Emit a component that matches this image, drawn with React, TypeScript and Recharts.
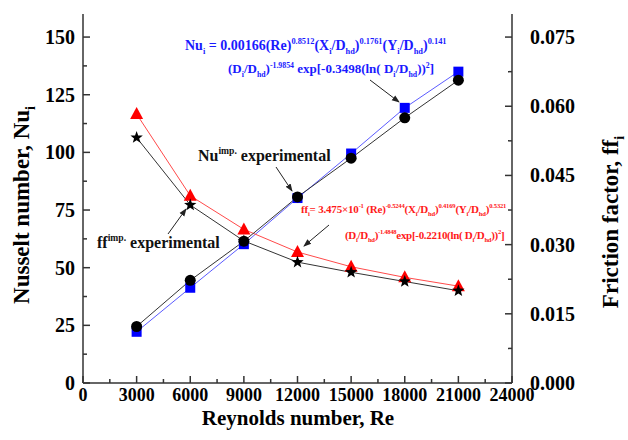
import { ComposedChart, Line, XAxis, YAxis, Customized } from "recharts";

// Reynolds numbers
const reynolds = [3000, 6000, 9000, 12000, 15000, 18000, 21000];
// Nusselt number
const nuExperimental = [24.5, 44.5, 61.5, 80.7, 97.5, 115, 131.3];
const nuCorrelation = [22.2, 41.3, 60.2, 80.2, 99.5, 119.3, 135];
// friction factor
const ffCorrelation = [0.0583, 0.0406, 0.0333, 0.0284, 0.0252, 0.0229, 0.0210];
const ffExperimental = [0.0532, 0.0386, 0.0308, 0.0262, 0.0240, 0.0220, 0.0200];

// ticks (majors get a label)
const xTicks = [0, 1500, 3000, 4500, 6000, 7500, 9000, 10500, 12000, 13500, 15000, 16500, 18000, 19500, 21000, 22500, 24000];
const xLabels = [0, 3000, 6000, 9000, 12000, 15000, 18000, 21000, 24000];
const nuTicks = [0, 12.5, 25, 37.5, 50, 62.5, 75, 87.5, 100, 112.5, 125, 137.5, 150];
const nuLabels = [0, 25, 50, 75, 100, 125, 150];
const ffTicks = [0, 0.0075, 0.015, 0.0225, 0.03, 0.0375, 0.045, 0.0525, 0.06, 0.0675, 0.075];
const ffLabels = ["0.000", "0.015", "0.030", "0.045", "0.060", "0.075"];

const data = reynolds.map((re, i) => ({
  re,
  nuExp: nuExperimental[i],
  nuCor: nuCorrelation[i],
  ffCor: ffCorrelation[i],
  ffExp: ffExperimental[i],
}));

const FONT = '"Liberation Serif", "Times New Roman", serif';
const AXIS = "#333";

const XTick = (props: any) => {
  const { x, y, payload } = props;
  const major = xLabels.includes(payload.value);
  return (
    <g>
      <line x1={x} x2={x} y1={y} y2={y - (major ? 7 : 4)} stroke={AXIS} strokeWidth={1.5} />
      {major && (
        <text x={x} y={y + 18} textAnchor="middle" fontFamily={FONT} fontWeight="bold" fontSize={18} fill="#000">
          {payload.value}
        </text>
      )}
    </g>
  );
};

const NuTick = (props: any) => {
  const { x, y, payload } = props;
  const major = nuLabels.includes(payload.value);
  return (
    <g>
      <line x1={x} x2={x + (major ? 7 : 4)} y1={y} y2={y} stroke={AXIS} strokeWidth={1.5} />
      {major && (
        <text x={x - 8} y={y + 7} textAnchor="end" fontFamily={FONT} fontWeight="bold" fontSize={20} fill="#000">
          {payload.value}
        </text>
      )}
    </g>
  );
};

const FfTick = (props: any) => {
  const { x, y, payload } = props;
  const label = payload.value.toFixed(3);
  const major = ffLabels.includes(label);
  return (
    <g>
      <line x1={x} x2={x - (major ? 7 : 4)} y1={y} y2={y} stroke={AXIS} strokeWidth={1.5} />
      {major && (
        <text x={x + 18} y={y + 7} textAnchor="start" fontFamily={FONT} fontWeight="bold" fontSize={20} fill="#000">
          {label}
        </text>
      )}
    </g>
  );
};

const Square = (props: any) => {
  const { cx, cy, index } = props;
  return <rect key={`sq-${index}`} x={cx - 5} y={cy - 5} width={10} height={10} fill="#0000ff" />;
};
const Circle = (props: any) => {
  const { cx, cy, index } = props;
  return <circle key={`ci-${index}`} cx={cx} cy={cy} r={5.5} fill="#000" />;
};
const Triangle = (props: any) => {
  const { cx, cy, index } = props;
  return (
    <polygon key={`tr-${index}`} points={`${cx},${cy - 7} ${cx - 6.5},${cy + 5} ${cx + 6.5},${cy + 5}`} fill="#ff0000" />
  );
};
const Star = (props: any) => {
  const { cx, cy, index } = props;
  const pts: string[] = [];
  for (let k = 0; k < 10; k++) {
    const r = k % 2 === 0 ? 6.5 : 2.7;
    const a = -Math.PI / 2 + (k * Math.PI) / 5;
    pts.push(`${cx + r * Math.cos(a)},${cy + r * Math.sin(a)}`);
  }
  return <polygon key={`st-${index}`} points={pts.join(" ")} fill="#000" />;
};

type Seg = { t: string; s?: "sub" | "sup" };

// rich text with sub / superscripts
const Rich = ({ x, y, segs, size, color, anchor, rotate, spacing }: any) => {
  let cur = 0;
  const small = size * 0.6;
  return (
    <text
      x={x}
      y={y}
      fontFamily={FONT}
      fontWeight="bold"
      fontSize={size}
      fill={color}
      textAnchor={anchor || "start"}
      letterSpacing={spacing}
      transform={rotate ? `rotate(${rotate} ${x} ${y})` : undefined}
    >
      {segs.map((g: Seg, i: number) => {
        const off = g.s === "sub" ? size * 0.28 : g.s === "sup" ? -size * 0.42 : 0;
        const dy = off - cur;
        cur = off;
        return (
          <tspan key={i} dy={dy} fontSize={g.s ? small : size}>
            {g.t}
          </tspan>
        );
      })}
    </text>
  );
};

const blue1: Seg[] = [
  { t: "Nu" }, { t: "i", s: "sub" }, { t: " = 0.00166(Re)" }, { t: "0.8512", s: "sup" },
  { t: "(X" }, { t: "i", s: "sub" }, { t: "/D" }, { t: "hd", s: "sub" }, { t: ")" }, { t: "0.1761", s: "sup" },
  { t: "(Y" }, { t: "i", s: "sub" }, { t: "/D" }, { t: "hd", s: "sub" }, { t: ")" }, { t: "0.141", s: "sup" },
];
const blue2: Seg[] = [
  { t: "(D" }, { t: "i", s: "sub" }, { t: "/D" }, { t: "hd", s: "sub" }, { t: ")" }, { t: "-1.9854", s: "sup" },
  { t: " exp[-0.3498(ln( D" }, { t: "i", s: "sub" }, { t: "/D" }, { t: "hd", s: "sub" }, { t: "))" }, { t: "2", s: "sup" }, { t: "]" },
];
const red1: Seg[] = [
  { t: "ff" }, { t: "i", s: "sub" }, { t: "= 3.475×10" }, { t: "-1", s: "sup" }, { t: " (Re)" }, { t: "-0.5244", s: "sup" },
  { t: "(X" }, { t: "i", s: "sub" }, { t: "/D" }, { t: "hd", s: "sub" }, { t: ")" }, { t: "0.4169", s: "sup" },
  { t: "(Y" }, { t: "i", s: "sub" }, { t: "/D" }, { t: "hd", s: "sub" }, { t: ")" }, { t: "0.5321", s: "sup" },
];
const red2: Seg[] = [
  { t: "(D" }, { t: "i", s: "sub" }, { t: "/D" }, { t: "hd", s: "sub" }, { t: ")" }, { t: "-1.4848", s: "sup" },
  { t: "exp[-0.2210(ln( D" }, { t: "i", s: "sub" }, { t: "/D" }, { t: "hd", s: "sub" }, { t: "))" }, { t: "2", s: "sup" }, { t: "]" },
];

const Annotations = () => (
  <g>
    <defs>
      <marker id="arr" markerWidth="8" markerHeight="8" refX="7" refY="4" orient="auto" markerUnits="userSpaceOnUse">
        <path d="M0,1 L8,4 L0,7 Z" fill="#222" />
      </marker>
    </defs>
    <Rich x={185} y={50} segs={blue1} size={14} color="#1a1aff" />
    <Rich x={228} y={73} segs={blue2} size={13} color="#1a1aff" />
    <Rich x={301} y={213} segs={red1} size={11} color="#ff1a1a" spacing={-0.2} />
    <Rich x={345} y={239} segs={red2} size={11} color="#ff1a1a" spacing={-0.3} />
    <Rich x={198} y={161} segs={[{ t: "Nu" }, { t: "imp.", s: "sup" }, { t: " experimental" }]} size={16} color="#111" />
    <Rich x={97} y={248} segs={[{ t: "ff" }, { t: "imp.", s: "sup" }, { t: " experimental" }]} size={16} color="#111" />
    <line x1={370} y1={80} x2={399} y2={102} stroke="#222" strokeWidth={1} markerEnd="url(#arr)" />
    <line x1={276} y1={167} x2={292} y2={191} stroke="#222" strokeWidth={1} markerEnd="url(#arr)" />
    <line x1={168} y1={234} x2={186} y2={209} stroke="#222" strokeWidth={1} markerEnd="url(#arr)" />
    <line x1={329} y1={225} x2={304} y2={246} stroke="#222" strokeWidth={1} markerEnd="url(#arr)" />
    <Rich x={29} y={205} segs={[{ t: "Nusselt number, Nu" }, { t: "i", s: "sub" }]} size={23} color="#000" anchor="middle" rotate={-90} />
    <Rich x={618} y={222} segs={[{ t: "Friction factor, ff" }, { t: "i", s: "sub" }]} size={23} color="#000" anchor="middle" rotate={-90} />
    <Rich x={298} y={425} segs={[{ t: "Reynolds number, Re" }]} size={21} color="#000" anchor="middle" />
  </g>
);

export default function App() {
  return (
    <div style={{ position: "absolute", left: 0, top: 0, width: 628, height: 440, background: "#fff" }}>
      <ComposedChart width={628} height={440} data={data} margin={{ top: 14, right: 0, bottom: 0, left: 0 }}>
        <XAxis
          dataKey="re"
          type="number"
          domain={[0, 24000]}
          ticks={xTicks}
          interval={0}
          height={57}
          tickSize={0}
          tickMargin={0}
          tickLine={false}
          tick={XTick}
          axisLine={{ stroke: AXIS, strokeWidth: 1.5 }}
        />
        <XAxis
          xAxisId="top"
          orientation="top"
          dataKey="re"
          type="number"
          domain={[0, 24000]}
          height={0}
          tick={false}
          tickLine={false}
          axisLine={{ stroke: AXIS, strokeWidth: 1.5 }}
        />
        <YAxis
          yAxisId="nu"
          orientation="left"
          domain={[0, 160]}
          ticks={nuTicks}
          interval={0}
          width={83}
          tickSize={0}
          tickMargin={0}
          tickLine={false}
          tick={NuTick}
          axisLine={{ stroke: AXIS, strokeWidth: 1.5 }}
        />
        <YAxis
          yAxisId="ff"
          orientation="right"
          domain={[0, 0.08]}
          ticks={ffTicks}
          interval={0}
          width={116}
          tickSize={0}
          tickMargin={0}
          tickLine={false}
          tick={FfTick}
          axisLine={{ stroke: AXIS, strokeWidth: 1.5 }}
        />
        <Line yAxisId="nu" dataKey="nuCor" stroke="#5b5bff" strokeWidth={1} dot={Square} isAnimationActive={false} />
        <Line yAxisId="ff" dataKey="ffCor" stroke="#ff4a4a" strokeWidth={1} dot={Triangle} isAnimationActive={false} />
        <Line yAxisId="nu" dataKey="nuExp" stroke="#333" strokeWidth={1} dot={Circle} isAnimationActive={false} />
        <Line yAxisId="ff" dataKey="ffExp" stroke="#333" strokeWidth={1} dot={Star} isAnimationActive={false} />
        <Customized component={Annotations} />
      </ComposedChart>
    </div>
  );
}
